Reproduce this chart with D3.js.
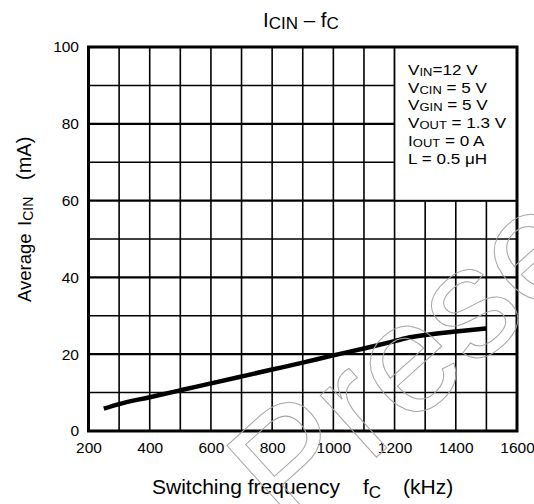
<!DOCTYPE html>
<html>
<head>
<meta charset="utf-8">
<script src="https://cdn.jsdelivr.net/npm/d3@7"></script>
<style>
  html, body { margin: 0; padding: 0; background: #fff; }
  svg { display: block; font-family: "Liberation Sans", Arial, sans-serif; }
</style>
</head>
<body>
<svg id="chart" width="534" height="504"></svg>
<script>
// Average input current of the CIN rail versus switching frequency
const freqKHz = [250, 300, 400, 500, 600, 700, 800, 900, 1000, 1100, 1200, 1250, 1300, 1400, 1500];
const icinMA  = [5.8, 7.0, 8.8, 10.6, 12.4, 14.2, 16.0, 17.8, 19.7, 21.5, 23.4, 24.4, 25.0, 25.9, 26.7];

const xTickValues = [200, 400, 600, 800, 1000, 1200, 1400, 1600];
const yTickValues = [0, 20, 40, 60, 80, 100];
const xGridValues = [300, 400, 500, 600, 700, 800, 900, 1000, 1100, 1200, 1300, 1400, 1500];
const yGridValues = [10, 20, 30, 40, 50, 60, 70, 80, 90];

// Test conditions: [main, subscript, rest]
const conditions = [
  ["V", "IN", "=12 V"],
  ["V", "CIN", " = 5 V"],
  ["V", "GIN", " = 5 V"],
  ["V", "OUT", " = 1.3 V"],
  ["I", "OUT", " = 0 A"],
  ["L = 0.5 ", "", "\u03bcH"]
];
const conditionBox = { x0: 1200, x1: 1600, y0: 60, y1: 100 };

const svg = d3.select("#chart");
const plot = { left: 88.5, right: 517, top: 47, bottom: 431 };

const x = d3.scaleLinear().domain([200, 1600]).range([plot.left, plot.right]);
const y = d3.scaleLinear().domain([0, 100]).range([plot.bottom, plot.top]);

// grid
const grid = svg.append("g");
grid.selectAll("line.v").data(xGridValues).join("line")
  .attr("x1", d => x(d)).attr("x2", d => x(d))
  .attr("y1", plot.top).attr("y2", plot.bottom)
  .attr("stroke", "#000").attr("stroke-width", 1.6);
grid.selectAll("line.h").data(yGridValues).join("line")
  .attr("x1", plot.left).attr("x2", plot.right)
  .attr("y1", d => y(d)).attr("y2", d => y(d))
  .attr("stroke", "#000").attr("stroke-width", d => d % 20 === 0 ? 2.2 : 1.5);

// condition box (covers the grid)
svg.append("rect")
  .attr("x", x(conditionBox.x0)).attr("y", y(conditionBox.y1))
  .attr("width", x(conditionBox.x1) - x(conditionBox.x0))
  .attr("height", y(conditionBox.y0) - y(conditionBox.y1))
  .attr("fill", "#fff").attr("stroke", "#000").attr("stroke-width", 1.6);

const condG = svg.append("g");
conditions.forEach((c, i) => {
  const t = condG.append("text")
    .attr("transform", `translate(${x(conditionBox.x0) + 13.5},${75 + i * 17.7}) scale(1.18,1)`)
    .attr("font-size", 14.5).attr("fill", "#000");
  t.append("tspan").text(c[0]);
  if (c[1]) t.append("tspan").attr("font-size", 11).attr("dy", 1).text(c[1]);
  t.append("tspan").attr("dy", c[1] ? -1 : 0).text(c[2]);
});

// curve
svg.append("path")
  .datum(freqKHz.map((f, i) => [f, icinMA[i]]))
  .attr("fill", "none").attr("stroke", "#000").attr("stroke-width", 4.5)
  .attr("stroke-linejoin", "round")
  .attr("d", d3.line().x(d => x(d[0])).y(d => y(d[1])).curve(d3.curveMonotoneX));

// frame
svg.append("rect")
  .attr("x", plot.left).attr("y", plot.top)
  .attr("width", plot.right - plot.left).attr("height", plot.bottom - plot.top)
  .attr("fill", "none").attr("stroke", "#000").attr("stroke-width", 3);

// axes (labels only)
const xAxis = svg.append("g").attr("transform", `translate(0,${plot.bottom})`)
  .call(d3.axisBottom(x).tickValues(xTickValues).tickSize(0).tickPadding(10.5).tickFormat(d3.format("d")));
const yAxis = svg.append("g").attr("transform", `translate(${plot.left},0)`)
  .call(d3.axisLeft(y).tickValues(yTickValues).tickSize(0).tickPadding(9.5).tickFormat(d3.format("d")));
[xAxis, yAxis].forEach(a => {
  a.select(".domain").remove();
  a.selectAll("text").attr("font-size", 15.5).attr("fill", "#000")
    .attr("font-family", "Liberation Sans, Arial, sans-serif");
});

// title
const title = svg.append("text").attr("x", 263).attr("y", 27).attr("font-size", 20.5).attr("fill", "#000");
title.append("tspan").text("I");
title.append("tspan").attr("font-size", 17).attr("dy", 1.5).text("CIN");
title.append("tspan").attr("dy", -1.5).text(" \u2013 f");
title.append("tspan").attr("font-size", 17).attr("dy", 1.5).text("C");

// x axis title
const xt = svg.append("text").attr("y", 494).attr("font-size", 21).attr("fill", "#000");
xt.append("tspan").attr("x", 152).text("Switching frequency");
xt.append("tspan").attr("x", 363).text("f");
xt.append("tspan").attr("font-size", 17).attr("dy", 4).text("C");
xt.append("tspan").attr("x", 403).attr("dy", -4).text("(kHz)");

// y axis title
const yt = svg.append("text").attr("transform", "translate(31,302) rotate(-90)")
  .attr("font-size", 18.5).attr("fill", "#000");
yt.append("tspan").attr("x", 0).text("Average");
yt.append("tspan").attr("x", 76).text("I");
yt.append("tspan").attr("font-size", 14).attr("dy", 2).text("CIN");
yt.append("tspan").attr("x", 122).attr("dy", -2).attr("font-size", 20).text("(mA)");

// outline watermark
svg.append("text")
  .attr("transform", "translate(290,535) rotate(-42)")
  .attr("font-size", 158).attr("font-family", "Liberation Sans, Arial, sans-serif")
  .attr("fill", "none").attr("stroke", "#a6a6a6").attr("stroke-width", 1)
  .text("Prese");
</script>
</body>
</html>
